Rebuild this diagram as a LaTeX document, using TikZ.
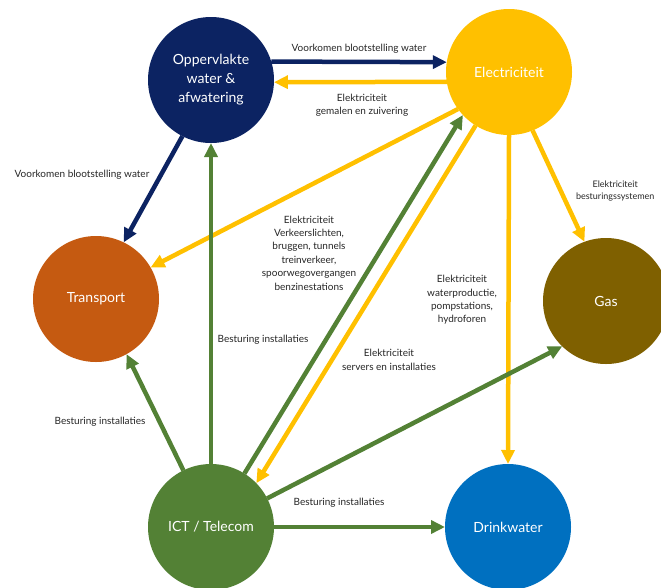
\documentclass[tikz,border=0pt]{standalone}
\usepackage{fontspec}
\setmainfont{Lato}
\usetikzlibrary{arrows.meta}

\definecolor{navyblue}{RGB}{12,35,98}
\definecolor{powergold}{RGB}{255,192,0}
\definecolor{rustorange}{RGB}{197,90,17}
\definecolor{gasbrown}{RGB}{127,96,0}
\definecolor{ictgreen}{RGB}{83,129,53}
\definecolor{drinkblue}{RGB}{0,112,192}

\begin{document}
\begin{tikzpicture}[x=1pt,y=-1pt,-{Triangle[length=14pt,width=13pt]},line width=4.5pt,
sector/.style={circle,minimum size=126pt,inner sep=0pt,outer sep=0pt,align=center,
  text=white,font=\fontsize{14}{19}\selectfont},
lbl/.style={align=center,text=black!85,font=\fontsize{10}{13.4}\selectfont}]

\useasboundingbox (0,0) rectangle (661,587);

\node[sector,fill=navyblue] (opp) at (211, 80) {Oppervlakte\\water \&\\afwatering};
\node[sector,fill=powergold] (elec) at (509, 72) {Electriciteit};
\node[sector,fill=rustorange] (trans) at (96, 299) {Transport};
\node[sector,fill=gasbrown] (gas) at (606, 301) {Gas};
\node[sector,fill=ictgreen] (ict) at (211, 527) {ICT / Telecom};
\node[sector,fill=drinkblue] (drink) at (508, 527) {Drinkwater};

% electricity lines
\path[powergold]
(elec.189) edge (opp.-2)
(elec.216) edge (trans.30)
(elec.-68) edge (gas.110)
(elec.-90) edge (drink.90)
(elec.-122) edge (ict.44);

% ict lines
\path[ictgreen]
(ict.90) edge (opp.-90)
(ict.116) edge (trans.-61)
(ict.58) edge (elec.-137)
(ict.27) edge (gas.-134)
(ict.0) edge (drink.180);

% water lines
\path[navyblue]
(opp.17) edge (elec.171)
(opp.-117) edge (trans.64);

% labels
\node[lbl] (l1) at (359, 49) {Voorkomen blootstelling water};
\node[lbl] (l2) at (362, 105) {Elektriciteit\\gemalen en zuivering};
\node[lbl] (l3) at (82, 175) {Voorkomen blootstelling water};
\node[lbl] (l4) at (309, 253) {Elektriciteit\\Verkeerslichten,\\bruggen, tunnels\\treinverkeer,\\spoorwegovergangen\\benzinestations};
\node[lbl] (l5) at (462, 300) {Elektriciteit\\waterproductie,\\pompstations,\\hydroforen};
\node[lbl] (l6) at (263, 340) {Besturing installaties};
\node[lbl] (l7) at (389, 360) {Elektriciteit\\servers en installaties};
\node[lbl,anchor=east,font=\fontsize{9}{12.5}\selectfont] (l8) at (660, 191) {Elektriciteit\\besturingssystemen};
\node[lbl] (l9) at (100, 422) {Besturing installaties};
\node[lbl] (l10) at (339, 503) {Besturing installaties};
\end{tikzpicture}
\end{document}
